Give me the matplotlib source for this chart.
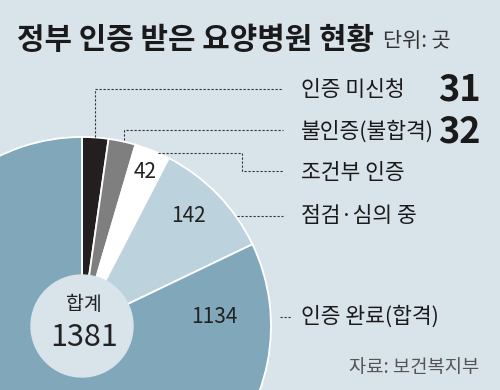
import matplotlib
matplotlib.use("Agg")
import matplotlib.pyplot as plt
from matplotlib.patches import Circle

plt.rcParams['font.family'] = ['Noto Sans CJK KR', 'DejaVu Sans']

# data (곳)
labels = ["인증 미신청", "불인증(불합격)", "조건부 인증", "점검·심의 중", "인증 완료(합격)"]
values = [31, 32, 42, 142, 1134]
colors = ["#231f20", "#7f7f7f", "#ffffff", "#bcd2dd", "#80a7ba"]
total = 1381

bg = "#d9e3ea"

fig = plt.figure(figsize=(5, 3.9), dpi=100, facecolor=bg)
ax = fig.add_axes([0, 0, 1, 1])

# donut, clockwise from the top on screen (y axis inverted below)
cx, cy, r = 82, 326, 189
ax.pie(values, colors=colors, startangle=-90, counterclock=True,
       center=(cx, cy), radius=r, frame=True,
       wedgeprops=dict(edgecolor="white", linewidth=1.3))
ax.set_xlim(0, 500)
ax.set_ylim(390, 0)  # pixel-like coordinates
ax.set_aspect('equal')
ax.axis('off')
ax.add_patch(Circle((cx, cy), 51, color=bg, zorder=5))
ax.text(cx + 2, 304, "합계", ha='center', va='center', fontsize=14, zorder=6, color="#222")
ax.text(cx + 2, 338, str(total), ha='center', va='center', fontsize=22, zorder=6, color="#222")

# values on the slices
ax.text(145, 172, str(values[2]), ha='center', va='center', fontsize=15, color="#222")
ax.text(188, 216, str(values[3]), ha='center', va='center', fontsize=15, color="#222")
ax.text(214, 317, str(values[4]), ha='center', va='center', fontsize=15, color="#222")

# leader lines
lk = dict(color="#333333", linewidth=0.8, linestyle=(0, (2, 1.6)), zorder=4)
ax.plot([95, 95, 283], [137, 89, 89], **lk)
ax.plot([124, 124, 283], [140, 130, 130], **lk)
ax.plot([158, 242, 242, 283], [153, 153, 171, 171], **lk)
ax.plot([237, 283], [216, 216], **lk)
ax.plot([280, 292], [317, 317], **lk)

# labels on the right
label_y = [90, 132, 173, 216, 317]
for lab, y in zip(labels, label_y):
    ax.text(301, y, lab, ha='left', va='center', fontsize=15.5, color="#1a1a1a")
ax.text(481, 90, str(values[0]), ha='right', va='center', fontsize=26,
        fontweight='bold', color="#1a1a1a")
ax.text(481, 132, str(values[1]), ha='right', va='center', fontsize=26,
        fontweight='bold', color="#1a1a1a")

# title and notes
ax.text(17, 40, "정부 인증 받은 요양병원 현황", ha='left', va='center', fontsize=21.5,
        fontweight='bold', color="#1a1a1a")
ax.text(383, 41, "단위: 곳", ha='left', va='center', fontsize=15, color="#333")
ax.text(479, 367, "자료: 보건복지부", ha='right', va='center', fontsize=13.5, color="#555")

fig.savefig("out.png", dpi=100, facecolor=bg)
